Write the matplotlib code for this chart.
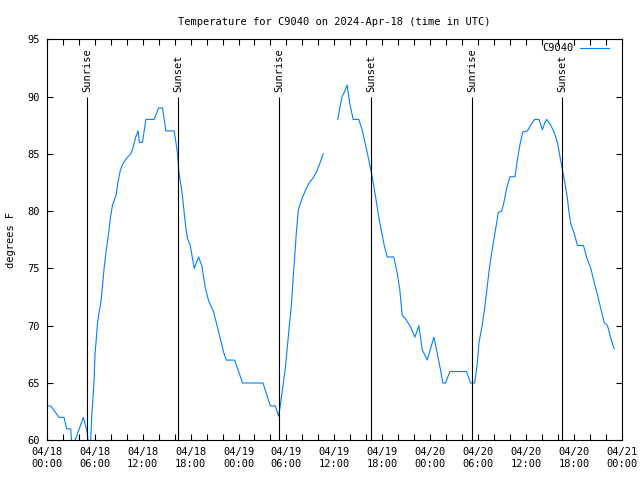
import numpy as np
import matplotlib
matplotlib.use('Agg')
from matplotlib import pyplot as plt
import matplotlib.dates as mdates

# hours after 2024-04-18 00:00 UTC and temperature (F); NaN = missing data
hours = [0.0, 0.5, 1.54, 2.17, 2.5, 3.0, 3.2, 3.55, 4.59, 4.97, 5.1, 5.3, 5.5,
         5.64, 5.8, 5.93, 6.05, 6.22, 6.35, 6.55, 6.77, 6.97, 7.18, 7.43, 7.72,
         7.97, 8.22, 8.47, 8.68, 8.94, 9.19, 9.44, 9.69, 10.1, 10.53, 10.78,
         11.15, 11.44, 11.6, 11.98, 12.41, 13.45, 13.99, 14.49, 14.91, 15.95,
         16.17, 16.37, 16.54, 16.79, 16.99, 17.21, 17.42, 17.62, 17.96, 18.46,
         19.0, 19.42, 19.84, 20.25, 20.88, 21.5, 22.13, 22.47, 23.51, 24.01,
         24.51, 27.07, 27.48, 27.98, 28.61, 29.02, 29.24, 29.57, 29.86, 30.15,
         30.4, 30.61, 30.83, 31.08, 31.24, 31.49, 31.95, 32.37, 32.78, 33.33,
         33.75, 34.25, 34.59, 35.5, 36.42, 36.67, 36.97, 37.26, 37.59, 37.92,
         38.35, 39.05, 39.47, 39.89, 40.3, 40.73, 41.14, 41.55, 41.98, 42.27,
         42.61, 43.43, 43.86, 44.19, 44.49, 44.9, 45.53, 46.07, 46.57, 46.99,
         47.62, 48.45, 48.87, 49.29, 49.57, 49.91, 50.45, 52.54, 53.04, 53.55,
         53.88, 54.09, 54.51, 54.8, 55.05, 55.34, 55.64, 55.97, 56.27, 56.52,
         56.93, 57.22, 57.56, 57.97, 58.6, 58.9, 59.22, 59.56, 60.15, 60.56,
         61.06, 61.6, 62.03, 62.32, 62.57, 63.07, 63.48, 63.91, 64.24, 64.54,
         64.86, 65.16, 65.36, 65.58, 65.99, 66.42, 67.17, 67.59, 68.09, 68.5,
         68.92, 69.34, 69.75, 70.18, 70.59, 71.0]
temps = [63, 63, 62, 62, 61, 61, 59, 60, 62, 61, 60.5, 59, 60,
         62.2, 63.8, 65.3, 67.6, 69.0, 70.2, 71.2, 72.0, 73.4, 75.0, 76.5, 77.9,
         79.4, 80.5, 81.0, 81.4, 82.6, 83.5, 84.0, 84.3, 84.7, 85.0, 85.5,
         86.5, 87.0, 86.0, 86.0, 88.0, 88.0, 89.0, 89.0, 87.0, 87.0,
         86.0, 85.0, 83.4, 82.3, 81.3, 79.8, 78.5, 77.6, 77.0, 75.0,
         76.0, 75.2, 73.3, 72.2, 71.2, 69.5, 67.7, 67.0, 67.0, 66.0,
         65.0, 65.0, 64.1, 63.0, 63.0, 62.1, 63.1, 64.8, 66.3, 68.5,
         70.3, 71.7, 74.1, 76.5, 78.2, 80.1, 81.1, 81.8, 82.4, 82.9,
         83.4, 84.3, 85.0, np.nan, 88.0, 89.0, 90.0, 90.4, 91.0, 89.4,
         88.0, 88.0, 87.1, 85.8, 84.5, 83.0, 81.3, 79.5, 77.9, 76.9,
         76.0, 76.0, 74.6, 73.1, 70.9, 70.6, 69.9, 69.0, 70.0, 67.9,
         67.0, 69.0, 67.6, 66.1, 65.0, 65.0, 66.0, 66.0, 65.0, 65.0,
         66.7, 68.5, 70.1, 71.5, 73.0, 74.7, 76.2, 77.6, 78.9, 79.9,
         80.0, 80.8, 82.0, 83.0, 83.0, 84.5, 85.8, 86.9, 87.0, 87.5,
         88.0, 88.0, 87.1, 87.7, 88.0, 87.5, 86.9, 86.0, 84.7, 83.6,
         82.4, 81.1, 79.9, 78.9, 78.1, 77.0, 77.0, 75.9, 75.0, 73.8,
         72.7, 71.5, 70.3, 70.0, 68.9, 68.0]

sun_hours = [5.09, 16.49, 29.11, 40.55, 53.23, 64.49]
sun_labels = ['Sunrise', 'Sunset', 'Sunrise', 'Sunset', 'Sunrise', 'Sunset']

start = np.datetime64('2024-04-18T00:00')
def to_time(h):
    return start + (np.array(h) * 3600).astype('timedelta64[s]')

plt.rcParams['font.family'] = 'DejaVu Sans Mono'
plt.rcParams['font.size'] = 7.5
plt.rcParams['axes.linewidth'] = 0.8

fig = plt.figure(figsize=(6.4, 4.8), dpi=100)
ax = fig.add_axes([0.073, 0.0827, 0.899, 0.8356])

ax.plot(to_time(hours), temps, color='#0080ff', lw=0.8, label='C9040')

for h, lab in zip(sun_hours, sun_labels):
    t = to_time([h])[0]
    ax.vlines(t, 60, 90, color='black', lw=0.8)
    ax.text(t, 90.4, lab, rotation=90, ha='center', va='bottom')

ax.set_xlim(to_time([0])[0], to_time([72])[0])
ax.set_ylim(60, 95)
ax.set_yticks(range(60, 96, 5))
ax.xaxis.set_major_locator(mdates.HourLocator(byhour=[0, 6, 12, 18]))
ax.xaxis.set_minor_locator(mdates.HourLocator(byhour=range(0, 24, 2)))
ax.xaxis.set_major_formatter(mdates.DateFormatter('%m/%d\n%H:%M'))
ax.tick_params(which='both', direction='in', top=True, right=True, length=4.5, width=0.8, pad=5)

ax.set_title('Temperature for C9040 on 2024-Apr-18 (time in UTC)', pad=10, fontsize=7.5)
ax.set_ylabel('degrees F', labelpad=8)
ax.legend(loc='upper right', frameon=False, markerfirst=False, handlelength=2.8,
          handletextpad=0.6, borderaxespad=0, bbox_to_anchor=(0.985, 1.0))

fig.savefig('out.png', dpi=100)
